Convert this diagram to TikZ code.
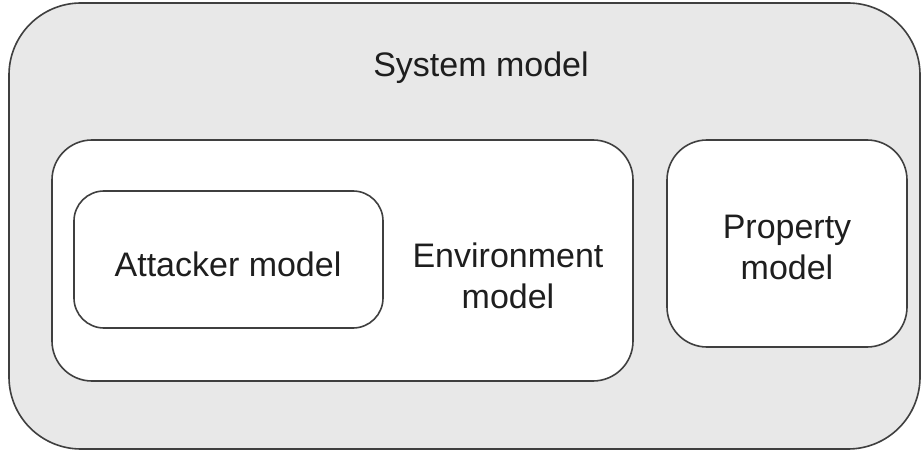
\documentclass[tikz,border=0pt]{standalone}
\usepackage{fontspec}
\setmainfont{Liberation Sans}
\definecolor{edge}{HTML}{3F3F3F}
\definecolor{panel}{HTML}{E8E8E8}
\definecolor{ink}{HTML}{1E1E1E}
\tikzset{
  modelbox/.style={draw=edge, line width=1.6bp, fill=white, inner sep=0pt, rectangle},
  caption/.style={text=ink, inner sep=0pt, align=center, font=\fontsize{34bp}{41bp}\selectfont},
}
\begin{document}
\begin{tikzpicture}[x=1bp, y=-1bp]
  \useasboundingbox (0,0) rectangle (922,453);
  \fill[white] (0,0) rectangle (922,453);
  % outer system container
  \node[modelbox, fill=panel, rounded corners=72bp, minimum width=911bp, minimum height=446bp] (system) at (464.5,226) {};
  \node[caption] (systemlbl) at (481,68) {System model};
  % environment container with nested attacker
  \node[modelbox, rounded corners=40bp, minimum width=581bp, minimum height=241bp] (env) at (342.5,260.5) {};
  \node[modelbox, rounded corners=30bp, minimum width=309bp, minimum height=137bp] (attacker) at (228.5,259.5) {};
  \node[caption] (attackerlbl) at (228,264) {Attacker model};
  \node[caption] (envlbl) at (508,276) {Environment\\model};
  % property box
  \node[modelbox, rounded corners=40bp, minimum width=240bp, minimum height=207bp] (property) at (787,243.5) {};
  \node[caption] (propertylbl) at (787,247) {Property\\model};
\end{tikzpicture}
\end{document}
